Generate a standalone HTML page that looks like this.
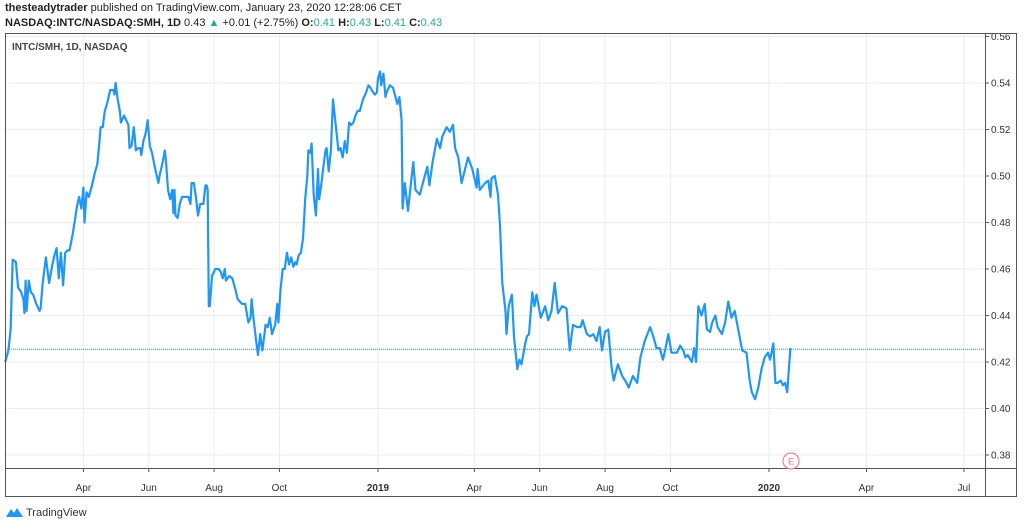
<!DOCTYPE html>
<html><head><meta charset="utf-8">
<style>
body{margin:0;width:1024px;height:526px;background:#fff;font-family:"Liberation Sans",sans-serif;overflow:hidden;position:relative}
.h1{position:absolute;left:5px;top:2px;font-size:11px;color:#222;z-index:2}
.h2{position:absolute;left:5px;top:17px;font-size:11px;color:#222;z-index:2}
.g{color:#26a69a}
svg{position:absolute;left:0;top:0;z-index:1}
</style></head><body>
<div class="h1"><b>thesteadytrader</b> published on TradingView.com, January 23, 2020 12:28:06 CET</div>
<div class="h2"><b>NASDAQ:INTC/NASDAQ:SMH, 1D</b> 0.43 <span class="g">▲</span> +0.01 (+2.75%) <b>O:</b><span class="g">0.41</span> <b>H:</b><span class="g">0.43</span> <b>L:</b><span class="g">0.41</span> <b>C:</b><span class="g">0.43</span></div>
<svg id="chart" width="1024" height="526"></svg>
<script>
const tickDays=[-275,-214,-153,-92,0,90,151,212,273,365,456,547];
const tickLabels=["Apr","Jun","Aug","Oct","2019","Apr","Jun","Aug","Oct","2020","Apr","Jul"];
const priceTicks=[0.56,0.54,0.52,0.50,0.48,0.46,0.44,0.42,0.40,0.38];
const lastPrice=0.4255;
const days=[-348,-345,-343,-341,-338,-336,-333,-331,-330,-329,-328,-326,-324,-322,-319,-316,-315,-313,-310,-307,-304,-302,-300,-298,-296,-294,-292,-290,-288,-285,-283,-281,-279,-277,-275,-274,-272,-270,-267,-264,-262,-260,-259,-257,-255,-253,-250,-247,-246,-245,-243,-241,-240,-237,-234,-233,-232,-230,-228,-226,-224,-222,-221,-219,-217,-215,-213,-211,-208,-205,-204,-201,-199,-198,-196,-194,-192,-191,-190,-189,-187,-185,-183,-181,-177,-175,-174,-172,-170,-168,-166,-163,-161,-160,-159,-158,-157,-155,-152,-149,-147,-145,-143,-142,-139,-136,-133,-131,-127,-124,-121,-119,-118,-116,-114,-112,-110,-108,-106,-105,-103,-101,-99,-96,-94,-93,-91,-89,-87,-85,-83,-81,-79,-77,-76,-74,-72,-70,-68,-66,-65,-63,-62,-60,-58,-56,-55,-53,-51,-49,-48,-46,-44,-42,-39,-37,-35,-33,-31,-29,-27,-25,-23,-21,-19,-17,-14,-11,-9,-7,-6,-3,-1,0,2,3,5,7,8,11,14,18,20,22,23,25,28,31,33,35,39,46,48,51,55,58,60,64,67,70,72,75,78,84,88,92,93,95,100,103,105,106,109,112,114,116,119,120,122,125,127,130,132,134,137,139,141,144,146,148,152,156,159,162,165,168,172,176,179,182,186,189,191,195,198,201,204,207,209,212,215,218,220,224,228,232,234,238,242,245,249,254,257,260,263,266,268,271,274,279,282,285,287,289,293,295,297,299,302,305,307,310,312,315,317,321,324,327,330,333,335,340,344,347,349,352,355,358,361,364,366,369,371,373,376,378,380,382,385];
const values=[.420,.425,.434,.464,.463,.452,.450,.447,.441,.455,.442,.455,.450,.449,.445,.442,.443,.454,.465,.454,.462,.466,.469,.456,.467,.453,.467,.468,.468,.475,.481,.487,.491,.486,.495,.480,.493,.491,.496,.502,.505,.515,.521,.521,.528,.531,.537,.537,.535,.540,.533,.528,.523,.526,.523,.522,.512,.513,.521,.511,.512,.512,.509,.515,.518,.524,.513,.510,.503,.497,.500,.506,.511,.507,.494,.490,.494,.484,.494,.483,.482,.488,.491,.491,.491,.488,.497,.497,.491,.483,.488,.488,.496,.496,.494,.444,.444,.457,.460,.460,.459,.456,.460,.455,.457,.456,.451,.447,.445,.445,.437,.439,.447,.438,.430,.423,.432,.425,.432,.436,.435,.439,.432,.436,.445,.437,.451,.460,.460,.467,.462,.465,.461,.463,.462,.466,.467,.473,.490,.500,.511,.510,.514,.492,.483,.503,.490,.496,.504,.511,.512,.502,.511,.533,.520,.511,.512,.508,.515,.510,.523,.522,.523,.526,.528,.528,.533,.536,.539,.538,.537,.535,.536,.542,.545,.539,.544,.534,.536,.539,.538,.531,.534,.524,.486,.497,.485,.498,.506,.494,.492,.504,.496,.506,.516,.512,.517,.521,.519,.522,.512,.508,.497,.508,.503,.495,.503,.494,.497,.498,.491,.499,.500,.492,.478,.454,.442,.432,.444,.449,.431,.417,.421,.419,.427,.431,.432,.450,.444,.449,.439,.444,.438,.442,.454,.441,.444,.443,.425,.436,.435,.435,.438,.432,.431,.432,.429,.435,.425,.433,.434,.418,.412,.419,.414,.411,.409,.414,.411,.422,.429,.435,.431,.426,.426,.421,.425,.432,.424,.424,.427,.425,.422,.423,.420,.426,.420,.444,.440,.445,.434,.433,.437,.440,.435,.432,.437,.446,.439,.442,.437,.425,.424,.412,.407,.404,.409,.417,.422,.424,.421,.428,.411,.411,.412,.410,.411,.407,.426];
const NS='http://www.w3.org/2000/svg';
const svg=document.getElementById('chart');
const L=5,R=985,T=33,B=468,RB=1017,BB=497;
const xs=d=>378+d*1.0712;
const ys=v=>83+(0.54-v)*2325;
function mk(tag,attrs,parent){const e=document.createElementNS(NS,tag);for(const k in attrs)e.setAttribute(k,attrs[k]);(parent||svg).appendChild(e);return e;}
const grid=mk('g',{});


tickDays.forEach((d,i)=>{
  const x=xs(d);
  const gl=mk('line',{x1:x,x2:x,y1:T,y2:B,stroke:'#e8eef3','stroke-width':1},grid);
  
  
  mk('line',{x1:x,x2:x,y1:B,y2:B+4,stroke:'#555'});
  const t=mk('text',{x:x,y:491,'text-anchor':'middle','font-size':10,fill:'#333','font-weight':(tickLabels[i].length===4?'bold':'normal')});
  t.textContent=tickLabels[i];
  
  
});
priceTicks.forEach(v=>{
  const y=ys(v);
  if(y>T){const gl=mk('line',{x1:L,x2:R,y1:y,y2:y,stroke:'#e8eef3','stroke-width':1},grid);
  
  }
  mk('line',{x1:R,x2:R+4,y1:y,y2:y,stroke:'#555'});
  const t=mk('text',{x:R+6,y:y+3.5,'font-size':10,fill:'#333'});
  t.textContent=v.toFixed(2);
  
  
});
mk('rect',{x:L,y:0,width:RB-L,height:T,fill:'#fff'});
const ly=ys(lastPrice);
const dl=mk('line',{x1:L,x2:R,y1:ly,y2:ly,stroke:'#2196f3','stroke-width':1,'stroke-dasharray':'1,1'});


let d='';
days.forEach((dd,i)=>{d+=(i?'L':'M')+xs(dd).toFixed(1)+','+ys(values[i]).toFixed(1);});
const p=mk('path',{d:d,fill:'none',stroke:'#2196f3','stroke-width':2.2,'stroke-linejoin':'round'});


const fr=mk('rect',{x:L+0.5,y:T+0.5,width:RB-L-1,height:BB-T-1,fill:'none',stroke:'#555'});


mk('line',{x1:R+0.5,x2:R+0.5,y1:T,y2:BB,stroke:'#555'});
mk('line',{x1:L,x2:RB,y1:B+0.5,y2:B+0.5,stroke:'#555'});
const lbl=mk('text',{x:12,y:50,'font-size':10,fill:'#444','font-weight':'bold'});
lbl.textContent='INTC/SMH, 1D, NASDAQ';


const ec=mk('circle',{cx:791,cy:461,r:8,fill:'#fff',stroke:'#f26d7d'});


const et=mk('text',{x:791,y:464.5,'text-anchor':'middle','font-size':9,fill:'#f26d7d'});
et.textContent='E';
const logo=mk('path',{d:'M6 517 L11 509 L14 513 L17 508 L23 517 Z',fill:'#2196f3'});


const lt=mk('text',{x:26,y:516,'font-size':11,fill:'#333'});
lt.textContent='TradingView';


</script>
</body></html>
